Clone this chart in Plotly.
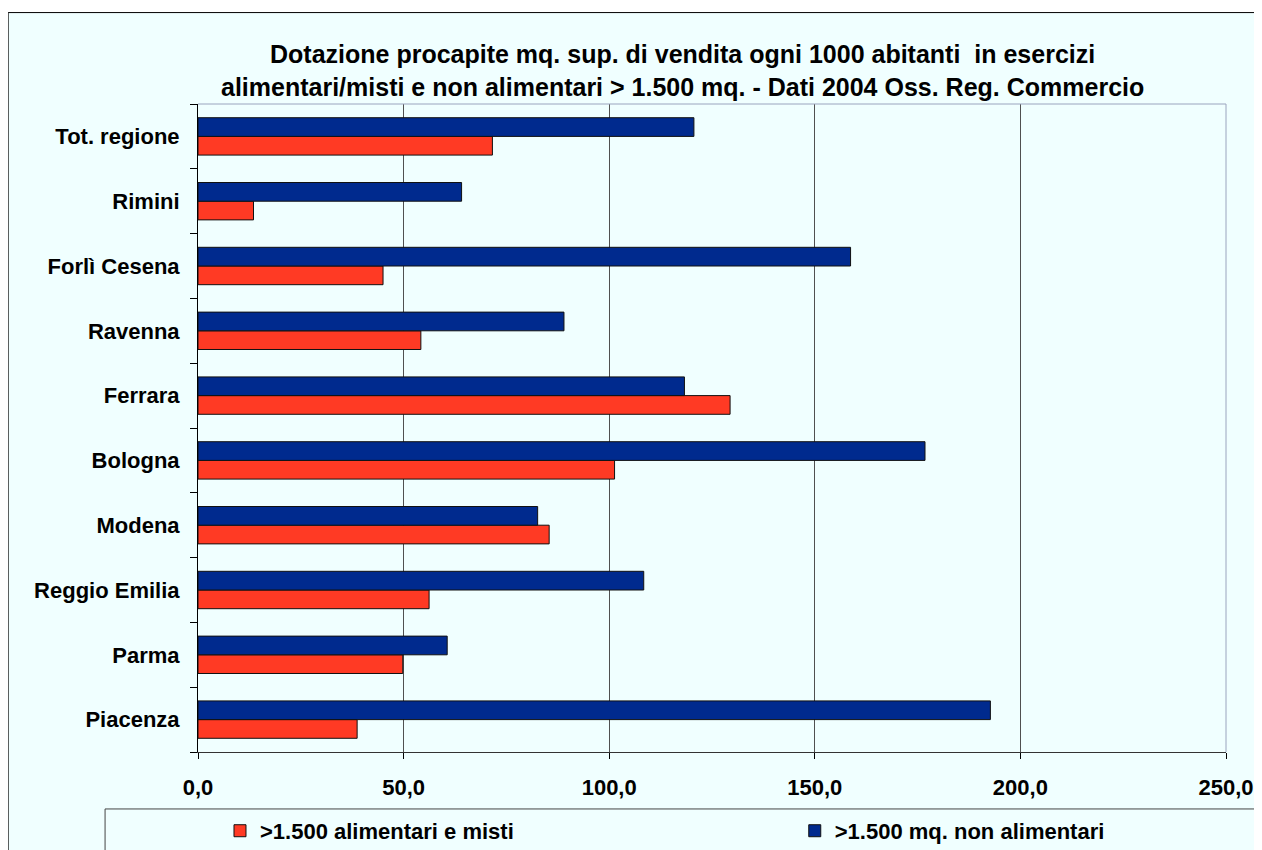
import plotly.graph_objects as go

# categories listed bottom -> top, as drawn
province = ["Piacenza", "Parma", "Reggio Emilia", "Modena", "Bologna",
            "Ferrara", "Ravenna", "Forlì Cesena", "Rimini", "Tot. regione"]
alimentari = [38.7, 49.8, 56.2, 85.4, 101.3, 129.4, 54.2, 45.0, 13.5, 71.6]
non_alimentari = [192.7, 60.6, 108.4, 82.6, 176.8, 118.3, 89.0, 158.7, 64.1, 120.6]

x_ticks = [0, 50, 100, 150, 200, 250]
x_labels = ["0,0", "50,0", "100,0", "150,0", "200,0", "250,0"]

FONT = "Liberation Sans, Arial, sans-serif"
BG = "#F0FFFF"
bold = lambda size: dict(size=size, color="#000000", family=FONT, weight="bold")

fig = go.Figure()
fig.add_trace(go.Bar(
    y=province, x=alimentari, orientation="h",
    name=">1.500 alimentari e misti", legend="legend",
    marker=dict(color="#FF3A24", line=dict(color="#111111", width=1)),
))
fig.add_trace(go.Bar(
    y=province, x=non_alimentari, orientation="h",
    name=">1.500 mq. non alimentari", legend="legend2",
    marker=dict(color="#002A8E", line=dict(color="#111111", width=1)),
))

# ---- Cornice e riquadro legenda ----
fig.add_shape(type="rect", xref="paper", yref="paper", layer="below",
              x0=-0.1847, x1=1.2, y0=-0.2, y1=1.1411,
              fillcolor=BG, line=dict(color="#000000", width=1))
fig.add_shape(type="rect", xref="paper", yref="paper", layer="below",
              x0=-0.0904, x1=1.2, y0=-0.2, y1=-0.0879,
              fillcolor=BG, line=dict(color="#444444", width=1))
# bordo superiore e destro dell'area del grafico
fig.add_shape(type="line", xref="x domain", yref="y domain", layer="above",
              x0=0, x1=1, y0=1, y1=1, line=dict(color="#9AA4BE", width=1))
fig.add_shape(type="line", xref="x domain", yref="y domain", layer="above",
              x0=1, x1=1, y0=0, y1=1, line=dict(color="#9AA4BE", width=1))

# ---- Titolo su due righe ----
fig.add_annotation(text="Dotazione procapite mq. sup. di vendita ogni 1000 abitanti  in esercizi",
                   xref="paper", yref="paper", x=0.4716, y=1.0771,
                   xanchor="center", yanchor="middle",
                   showarrow=False, font=bold(25))
fig.add_annotation(text="alimentari/misti e non alimentari > 1.500 mq. - Dati 2004 Oss. Reg. Commercio",
                   xref="paper", yref="paper", x=0.4716, y=1.0269,
                   xanchor="center", yanchor="middle",
                   showarrow=False, font=bold(25))

fig.update_xaxes(
    range=[0, 250], tickvals=x_ticks, ticktext=x_labels,
    showgrid=True, gridcolor="#505050", gridwidth=1,
    showline=True, linecolor="#333333", linewidth=1,
    ticks="outside", ticklen=6, tickcolor="#000000",
    ticklabelstandoff=10,
    tickfont=bold(22),
    zeroline=False, fixedrange=True,
)
fig.update_yaxes(
    categoryorder="array", categoryarray=province,
    showline=True, linecolor="#000000", linewidth=1,
    ticks="outside", ticklen=7, tickcolor="#000000", tickson="boundaries",
    ticklabelstandoff=13,
    tickfont=bold(22),
    showgrid=False, fixedrange=True,
)

legend_style = dict(orientation="h", yanchor="middle", xanchor="left", y=-0.1218,
                    bgcolor="rgba(0,0,0,0)", borderwidth=0, font=bold(22))

fig.update_layout(
    width=1254, height=842,
    margin=dict(l=190, r=35.5, t=95.5, b=98, autoexpand=False),
    paper_bgcolor="#FFFFFF", plot_bgcolor=BG,
    barmode="group", bargap=0.423, bargroupgap=0,
    font=dict(family=FONT, color="#000000"),
    showlegend=True,
    legend=dict(x=0.0214, **legend_style),
    legend2=dict(x=0.5805, **legend_style),
)

fig.write_html("out.html")
